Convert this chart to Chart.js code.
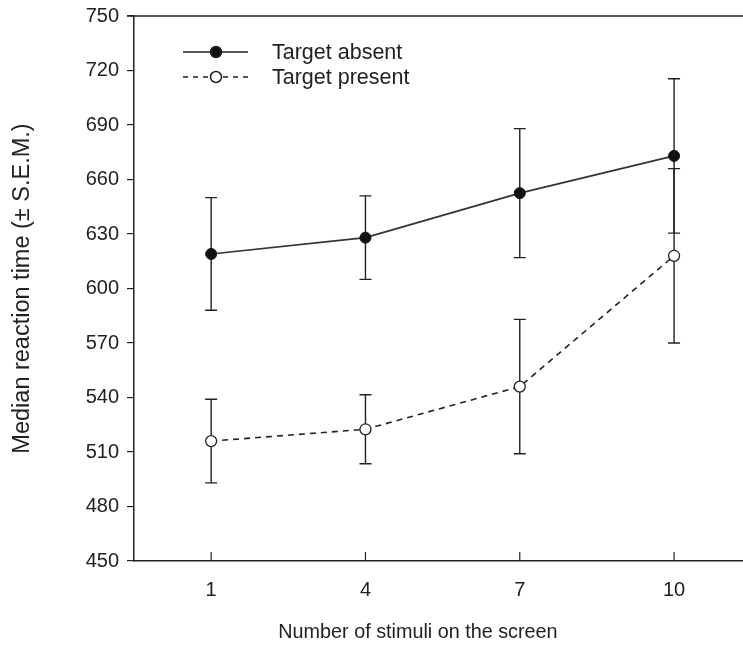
<!DOCTYPE html>
<html>
<head>
<meta charset="utf-8">
<script src="https://cdn.jsdelivr.net/npm/chart.js@4"></script>
<style>
    body{
        margin: 0;
        background: #fff;
        overflow: hidden;
    }
    #wrap{
        width: 743px;
        height: 645px;
    }
</style>
</head>
<body>
<div id="wrap"><canvas id="chart"></canvas></div>
<script>
// values
const stimuli = [1, 4, 7, 10]
const absentRT = [619, 628, 652.5, 673]
const absentSEM = [31, 23, 35.5, 42.5]
const presentRT = [516, 522.5, 546, 618]
const presentSEM = [23, 19, 37, 48]
const yTicks = [450, 480, 510, 540, 570, 600, 630, 660, 690, 720, 750]
const xTitle = 'Number of stimuli on the screen'

const ink = '#222'
const fontFam = '"Liberation Sans", Arial, Helvetica, sans-serif'

const toPoints = (xs, ys) => xs.map((x, i) => ({x: x, y: ys[i]}))

// error bars (+/- S.E.M.) through the y scale
const errorBars = {
    id: 'errorBars',
    beforeDatasetsDraw(chart) {
        const ctx = chart.ctx
        const xs = chart.scales.x, ys = chart.scales.y
        const sets = [[absentRT, absentSEM], [presentRT, presentSEM]]
        ctx.save()
        ctx.strokeStyle = ink
        ctx.lineWidth = 1.4
        sets.forEach(([vals, errs]) => {
            stimuli.forEach((s, i) => {
                const px = xs.getPixelForValue(s)
                const top = ys.getPixelForValue(vals[i] + errs[i])
                const bot = ys.getPixelForValue(vals[i] - errs[i])
                ctx.beginPath()
                ctx.moveTo(px, top); ctx.lineTo(px, bot)
                ctx.moveTo(px - 6, top); ctx.lineTo(px + 6, top)
                ctx.moveTo(px - 6, bot); ctx.lineTo(px + 6, bot)
                ctx.stroke()
            })
        })
        ctx.restore()
    }
}

// top frame line, inward x ticks, x title (sits left of the plot centre in the original)
const frame = {
    id: 'frame',
    afterDraw(chart) {
        const ctx = chart.ctx
        const a = chart.chartArea
        const xs = chart.scales.x
        ctx.save()
        ctx.strokeStyle = ink
        ctx.lineWidth = 1.5
        ctx.beginPath()
        ctx.moveTo(a.left - 7, a.top)
        ctx.lineTo(a.right, a.top)
        ctx.stroke()
        ctx.lineWidth = 1.2
        stimuli.forEach(s => {
            const px = xs.getPixelForValue(s)
            ctx.beginPath()
            ctx.moveTo(px, a.bottom)
            ctx.lineTo(px, a.bottom - 9)
            ctx.stroke()
        })
        ctx.fillStyle = ink
        ctx.font = '19.8px ' + fontFam
        ctx.textAlign = 'center'
        ctx.textBaseline = 'middle'
        ctx.fillText(xTitle, xs.getPixelForValue(5.02), 633)
        ctx.restore()
    }
}

// legend drawn inside the plot, top left
const insideLegend = {
    id: 'insideLegend',
    afterDraw(chart) {
        const ctx = chart.ctx
        ctx.save()
        ctx.font = '21.5px ' + fontFam
        ctx.textBaseline = 'middle'
        ctx.fillStyle = ink
        const rows = [
            {y: 52, dash: [], fill: '#111', label: 'Target absent'},
            {y: 77, dash: [5, 5], fill: '#fff', label: 'Target present'}
        ]
        rows.forEach(r => {
            ctx.strokeStyle = ink
            ctx.lineWidth = 1.5
            ctx.setLineDash(r.dash)
            ctx.beginPath()
            ctx.moveTo(183, r.y); ctx.lineTo(248, r.y)
            ctx.stroke()
            ctx.setLineDash([])
            ctx.beginPath()
            ctx.arc(216, r.y, 5.5, 0, Math.PI * 2)
            ctx.fillStyle = r.fill
            ctx.fill()
            ctx.stroke()
            ctx.fillStyle = ink
            ctx.fillText(r.label, 272, r.y + 1)
        })
        ctx.restore()
    }
}

new Chart(document.getElementById('chart'), {
    type: 'line',
    data: {
        datasets: [
            {
                label: 'Target absent',
                data: toPoints(stimuli, absentRT),
                borderColor: '#333',
                borderWidth: 1.6,
                pointRadius: 5.5,
                pointBackgroundColor: '#111',
                pointBorderColor: '#111',
                pointBorderWidth: 1
            },
            {
                label: 'Target present',
                data: toPoints(stimuli, presentRT),
                borderColor: '#222',
                borderWidth: 1.6,
                borderDash: [6, 5],
                pointRadius: 5.5,
                pointBackgroundColor: '#fff',
                pointBorderColor: '#222',
                pointBorderWidth: 1.3
            }
        ]
    },
    options: {
        responsive: true,
        maintainAspectRatio: false,
        animation: false,
        layout: {autoPadding: false, padding: {top: 16, left: 0, right: 0, bottom: 0}},
        plugins: {
            legend: {display: false},
            tooltip: {enabled: false}
        },
        scales: {
            x: {
                type: 'linear',
                min: -0.5,
                max: 11.34,
                afterBuildTicks: s => { s.ticks = stimuli.map(v => ({value: v})) },
                afterFit: s => {
                    s.height = 84
                    s.paddingLeft = 0
                    s.paddingRight = 0
                },
                grid: {display: false, drawTicks: false},
                border: {display: true, color: ink, width: 1.5},
                ticks: {
                    color: ink,
                    padding: 17,
                    font: {size: 20, family: fontFam}
                },
                title: {display: false}
            },
            y: {
                min: 450,
                max: 750,
                afterBuildTicks: s => { s.ticks = yTicks.map(v => ({value: v})) },
                afterFit: s => {
                    s.width = 134
                    s.paddingTop = 0
                    s.paddingBottom = 0
                },
                grid: {drawOnChartArea: false, tickLength: 7, color: ink, lineWidth: 1.2},
                border: {display: true, color: ink, width: 1.5},
                ticks: {
                    color: ink,
                    padding: 8,
                    font: {size: 20, family: fontFam}
                },
                title: {
                    display: true,
                    text: 'Median reaction time (± S.E.M.)',
                    color: ink,
                    padding: {top: 8, bottom: 0},
                    font: {size: 23.5, family: fontFam}
                }
            }
        }
    },
    plugins: [errorBars, frame, insideLegend]
})
</script>
</body>
</html>
